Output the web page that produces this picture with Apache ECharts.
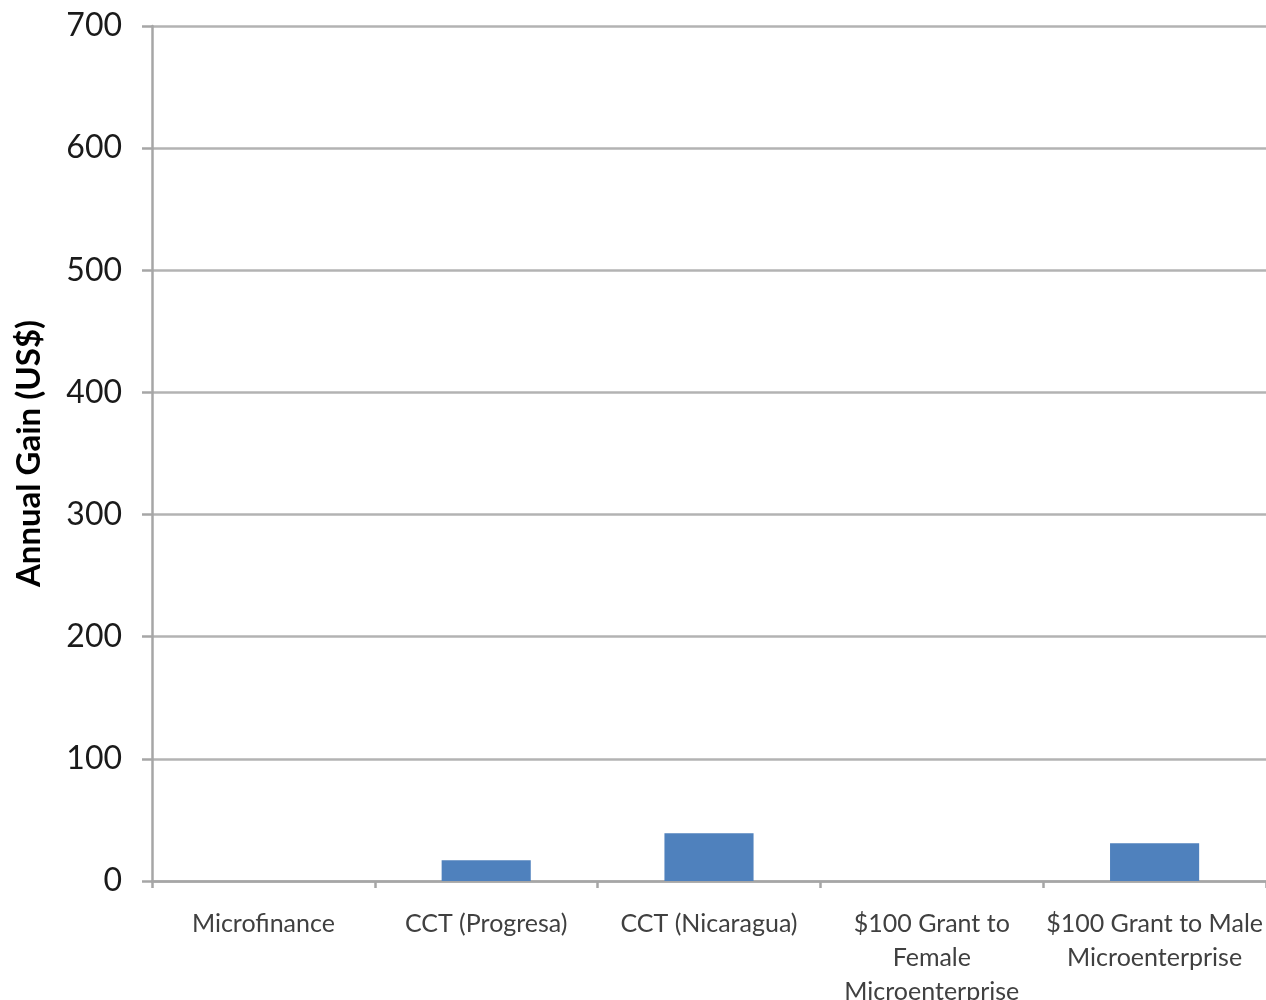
<!DOCTYPE html>
<html>
<head>
<meta charset="utf-8">
<script src="https://cdn.jsdelivr.net/npm/echarts@6/dist/echarts.min.js"></script>
<style>
html,body{margin:0;padding:0;background:#fff;}
#c{width:1266px;height:1000px;}
</style>
</head>
<body>
<div id="c"></div>
<script>
const categories = [
  "Microfinance",
  "CCT (Progresa)",
  "CCT (Nicaragua)",
  "$100 Grant to\nFemale\nMicroenterprise",
  "$100 Grant to Male\nMicroenterprise"
];
const gains = [0, 17, 39, 0, 31];
const yTicks = { min: 0, max: 700, interval: 100 };
const yTitle = "Annual Gain (US$)";

const chart = echarts.init(document.getElementById('c'));
chart.setOption({
  animation: false,
  backgroundColor: '#ffffff',
  grid: { left: 152, right: 0, top: 26, bottom: 119, containLabel: false, outerBoundsMode: 'none' },
  xAxis: {
    type: 'category',
    data: categories,
    boundaryGap: true,
    axisLine: { show: true, lineStyle: { color: '#a6a6a6', width: 2.5 } },
    axisTick: { show: true, alignWithLabel: false, length: 7, lineStyle: { color: '#a6a6a6', width: 2.5 } },
    axisLabel: {
      interval: 0,
      fontFamily: 'Lato',
      fontSize: 25,
      color: '#404040',
      lineHeight: 34,
      margin: 26
    },
    splitLine: { show: false }
  },
  yAxis: {
    type: 'value',
    min: yTicks.min,
    max: yTicks.max,
    interval: yTicks.interval,
    name: yTitle,
    nameLocation: 'middle',
    nameGap: 106,
    nameRotate: 90,
    nameTextStyle: { fontFamily: 'Lato', fontWeight: 'bold', fontSize: 33, color: '#000' },
    axisLine: { show: true, lineStyle: { color: '#a6a6a6', width: 2.5 } },
    axisTick: { show: true, length: 10, lineStyle: { color: '#a6a6a6', width: 2.5 } },
    axisLabel: { fontFamily: 'Lato', fontSize: 32, color: '#1a1a1a', margin: 30 },
    splitLine: { show: true, lineStyle: { color: '#b3b3b3', width: 2.5 } }
  },
  series: [{
    type: 'bar',
    data: gains,
    barWidth: '40%',
    itemStyle: { color: '#4f81bd' }
  }]
});
</script>
</body>
</html>
